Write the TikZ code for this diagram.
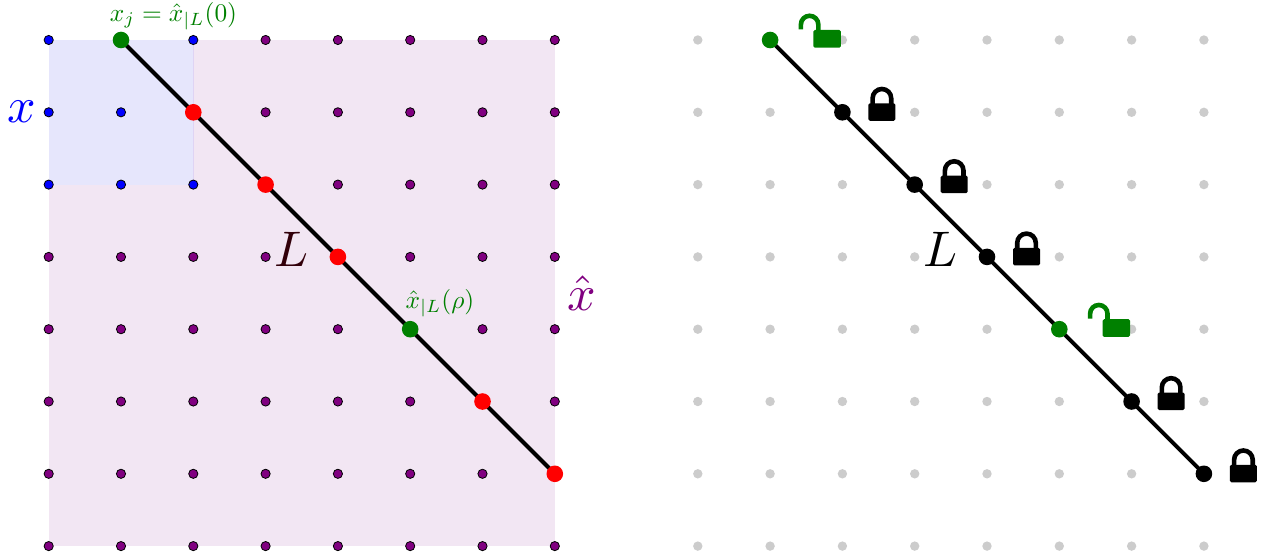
\documentclass[tikz,border=0pt]{standalone}
\definecolor{gridblue}{RGB}{0,0,255}
\definecolor{gridpurple}{RGB}{128,0,128}
\definecolor{lockgreen}{RGB}{0,128,0}
\definecolor{regionblue}{RGB}{230,230,252}
\definecolor{regionpurple}{RGB}{242,230,243}
\definecolor{dotgrey}{RGB}{204,204,204}
\definecolor{labeldark}{RGB}{50,0,10}
\tikzset{
  x=1pt,y=-1pt,
  griddot/.style={circle,draw=black,line width=0.8pt,inner sep=0pt,minimum size=9.2pt},
  bluedot/.style={griddot,fill=gridblue},
  purpledot/.style={griddot,fill=gridpurple},
  greydot/.style={circle,fill=dotgrey,inner sep=0pt,minimum size=9.4pt},
  bigdot/.style={circle,inner sep=0pt,minimum size=16.6pt},
  lline/.style={black,line width=4pt},
  greenlabel/.style={text=lockgreen,scale=2.54,inner sep=0pt},
  biglabel/.style={scale=5,inner sep=0pt},
  lockbody/.style={rounded corners=1.5pt},
  shackle/.style={line width=4.6pt,fill=none},
  pics/closedlock/.style={code={
    \fill[black,lockbody] (26,-9) rectangle (53,8.5);
    \draw[black,shackle] (30.2,-8) -- (30.2,-14) arc[start angle=180,end angle=360,radius=9.3] -- (48.8,-8);
  }},
  pics/openlock/.style={code={
    \fill[lockgreen,lockbody] (43.3,-10) rectangle (70.7,7.7);
    \draw[lockgreen,shackle] (30.8,-10.5) -- (30.8,-15.5) arc[start angle=180,end angle=360,radius=8.7] -- (48.2,-10);
  }}
}
\begin{document}
\begin{tikzpicture}
\useasboundingbox (0,0) rectangle (1268,556);
\fill[regionpurple] (48.5,40) rectangle (555,546);
\fill[regionblue] (48.5,40) rectangle (193,185);
\draw[regionpurple!92!blue,line width=0.5pt] (193,40) -- (193,185);
% left grid
\foreach \i in {0,...,7}{
  \foreach \j in {0,...,7}{
    \pgfmathsetmacro{\px}{48.7+72.3*\i}
    \pgfmathsetmacro{\py}{40+72.3*\j}
    \pgfmathtruncatemacro{\inblue}{(\i<3)&&(\j<3)}
    \ifnum\inblue=1
      \node[bluedot] (a\i\j) at (\px,\py) {};
    \else
      \node[purpledot] (a\i\j) at (\px,\py) {};
    \fi
    \pgfmathsetmacro{\qx}{697.8+72.3*\i}
    \node[greydot] (b\i\j) at (\qx,\py) {};
  }
}
% left line
\draw[lline] (a10.center) -- (a76.center);
\node[bigdot,fill=lockgreen] (a1) at (a10) {};
\node[bigdot,fill=red] (a2) at (a21) {};
\node[bigdot,fill=red] (a3) at (a32) {};
\node[bigdot,fill=red] (a4) at (a43) {};
\node[bigdot,fill=lockgreen] (a5) at (a54) {};
\node[bigdot,fill=red] (a6) at (a65) {};
\node[bigdot,fill=red] (a7) at (a76) {};
% right line
\draw[lline] (b10.center) -- (b76.center);
\node[bigdot,fill=lockgreen] (c1) at (b10) {};
\node[bigdot,fill=black] (c2) at (b21) {};
\node[bigdot,fill=black] (c3) at (b32) {};
\node[bigdot,fill=black] (c4) at (b43) {};
\node[bigdot,fill=lockgreen] (c5) at (b54) {};
\node[bigdot,fill=black] (c6) at (b65) {};
\node[bigdot,fill=black] (c7) at (b76) {};
% locks
\pic at (b10) {openlock};
\pic at (b21) {closedlock};
\pic at (b32) {closedlock};
\pic at (b43) {closedlock};
\pic at (b54) {openlock};
\pic at (b65) {closedlock};
\pic at (b76) {closedlock};
% labels
\node[greenlabel] (t1) at (173.5,16) {$x_j=\hat{x}_{|L}(0)$};
\node[greenlabel] (t2) at (440,303) {$\hat{x}_{|L}(\rho)$};
\node[biglabel,text=gridblue] (t3) at (21.5,112) {$x$};
\node[biglabel,text=gridpurple] (t4) at (582,293) {$\hat{x}$};
\node[biglabel,text=labeldark] (t5) at (291.5,249.5) {$L$};
\node[biglabel,text=black] (t6) at (940.5,249.5) {$L$};
\end{tikzpicture}
\end{document}
